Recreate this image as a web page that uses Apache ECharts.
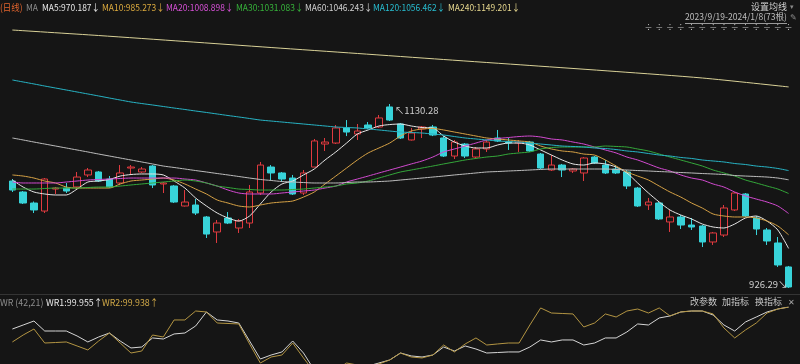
<!DOCTYPE html>
<html><head><meta charset="utf-8">
<script src="https://cdn.jsdelivr.net/npm/echarts@6/dist/echarts.min.js"></script>
<style>html,body{margin:0;padding:0;background:#151515}#c{width:800px;height:364px}</style>
</head><body><div id="c"></div>
<script>
// ---------------- data ----------------
const dates = ['2023/9/19','9/20','9/21','9/22','9/25','9/26','9/27','9/28','10/9','10/10','10/11','10/12','10/13','10/16','10/17','10/18','10/19','10/20','10/23','10/24','10/25','10/26','10/27','10/30','10/31','11/1','11/2','11/3','11/6','11/7','11/8','11/9','11/10','11/13','11/14','11/15','11/16','11/17','11/20','11/21','11/22','11/23','11/24','11/27','11/28','11/29','11/30','12/1','12/4','12/5','12/6','12/7','12/8','12/11','12/12','12/13','12/14','12/15','12/18','12/19','12/20','12/21','12/22','12/25','12/26','12/27','12/28','12/29','2024/1/2','1/3','1/4','1/5','1/8'];

const opens = [1044.9,1032.7,1020.5,1011.6,1036.0,1037.1,1038.3,1051.6,1054.9,1047.1,1042.7,1059.3,1054.9,1061.5,1041.6,1039.4,1017.2,1018.3,1005.0,988.4,1003.9,992.8,998.3,1031.6,1060.4,1053.8,1048.2,1031.6,1060.4,1085.9,1087.0,1103.7,1097.0,1107.0,1104.8,1127.0,1108.1,1090.4,1102.6,1104.8,1092.6,1072.6,1085.9,1071.5,1080.4,1092.6,1088.1,1087.0,1088.1,1074.8,1057.1,1062.6,1056.0,1053.8,1071.5,1062.6,1058.2,1054.9,1037.1,1018.3,1020.5,999.5,1005.0,996.1,995.0,977.3,985.0,1012.8,1030.5,1003.9,990.6,976.2,949.6];
const closes = [1034.9,1020.5,1012.8,1047.1,1037.1,1033.8,1049.3,1057.1,1044.9,1038.3,1053.8,1060.4,1058.2,1040.5,1042.7,1021.6,1021.6,1009.4,986.1,998.3,998.3,1000.6,1032.7,1062.6,1053.8,1047.1,1030.5,1053.8,1089.3,1088.1,1103.7,1099.2,1100.3,1103.7,1114.8,1112.5,1092.6,1098.1,1104.8,1095.9,1072.6,1088.1,1072.6,1080.4,1088.1,1089.3,1087.0,1088.1,1078.2,1059.3,1062.6,1057.1,1058.2,1070.4,1064.9,1053.8,1053.8,1039.4,1017.2,1021.6,1002.8,1005.0,996.1,993.9,977.3,987.3,1015.0,1031.6,1006.1,991.7,978.4,951.8,927.4];
const lows = [1032.7,1019.4,1009.4,1009.4,1030.5,1031.6,1034.9,1049.3,1043.8,1037.1,1040.5,1051.6,1053.8,1037.1,1031.6,1020.5,1016.6,1007.2,981.7,976.2,997.2,987.3,992.8,1029.4,1046.0,1043.8,1029.4,1029.4,1060.4,1078.2,1085.9,1094.7,1090.4,1102.6,1103.7,1111.4,1091.5,1089.8,1092.6,1094.7,1071.5,1069.3,1070.4,1069.3,1077.1,1088.1,1079.3,1077.1,1077.1,1058.2,1056.0,1049.3,1053.8,1044.9,1063.8,1052.7,1052.7,1036.0,1016.1,1012.8,1001.7,988.4,991.7,990.6,971.7,974.0,982.8,1011.6,1005.0,985.0,974.0,949.6,926.29];
const highs = [1047.1,1033.8,1022.2,1048.2,1038.3,1042.7,1054.9,1059.3,1056.0,1050.5,1062.6,1062.6,1060.4,1062.6,1043.8,1040.5,1034.9,1025.0,1006.1,1001.7,1010.5,1002.8,1040.5,1066.0,1062.6,1054.9,1051.6,1057.1,1091.5,1092.6,1107.0,1112.5,1108.1,1110.3,1118.1,1130.28,1109.2,1103.7,1105.9,1107.0,1094.8,1090.4,1087.0,1082.6,1090.4,1101.5,1092.6,1090.4,1089.3,1076.0,1073.7,1063.8,1059.3,1071.5,1072.6,1068.2,1062.6,1057.1,1038.3,1026.1,1021.6,1012.8,1007.2,1003.9,996.1,988.4,1018.3,1032.7,1031.6,1006.1,992.8,982.8,950.7];

const ma5 = [1046.0,1038.2,1032.7,1030.5,1029.4,1029.4,1036.0,1043.8,1044.9,1046.6,1050.4,1052.1,1052.7,1052.7,1051.6,1044.9,1037.1,1026.0,1017.2,1009.4,1003.9,1000.5,1006.1,1019.4,1032.7,1041.6,1044.9,1051.6,1058.2,1068.2,1077.1,1087.0,1097.0,1101.5,1105.9,1107.5,1108.1,1105.9,1104.2,1103.7,1094.8,1088.1,1083.7,1081.5,1081.5,1084.8,1087.0,1087.0,1084.8,1079.3,1073.7,1068.2,1063.8,1062.6,1064.9,1063.8,1060.4,1053.8,1042.7,1031.6,1021.6,1012.7,1007.2,1002.8,997.2,993.9,992.8,997.2,1003.9,1006.1,1000.5,990.6,970.19];
const ma10 = [1051.6,1050.4,1048.2,1044.9,1042.7,1038.2,1037.1,1037.1,1037.1,1037.1,1041.6,1044.9,1046.0,1047.1,1048.2,1046.0,1041.6,1036.0,1030.5,1023.8,1020.5,1017.2,1016.1,1018.3,1020.5,1021.6,1022.7,1027.1,1032.7,1041.6,1050.4,1059.3,1068.2,1076.0,1081.5,1087.0,1094.8,1100.3,1102.6,1103.1,1101.5,1099.2,1097.0,1094.8,1092.6,1091.5,1090.4,1089.3,1088.1,1083.7,1080.4,1078.2,1077.1,1074.8,1073.7,1068.2,1061.5,1054.9,1050.4,1046.0,1039.3,1032.7,1027.1,1020.5,1014.9,1008.3,1006.1,1005.0,1005.0,1003.9,1000.5,995.0,985.27];
const ma20 = [1043.8,1042.7,1042.7,1042.7,1042.7,1043.8,1044.9,1046.0,1046.6,1047.1,1047.7,1048.2,1048.2,1048.2,1048.2,1048.2,1047.1,1046.0,1042.7,1039.3,1034.9,1031.6,1030.5,1030.5,1030.5,1031.6,1032.7,1033.8,1034.9,1037.1,1039.3,1043.8,1047.1,1050.4,1053.8,1057.1,1060.4,1063.8,1067.1,1071.5,1077.1,1080.4,1083.7,1087.0,1090.4,1092.0,1093.1,1094.2,1094.8,1093.7,1091.5,1090.4,1088.1,1085.9,1082.6,1079.3,1076.0,1071.5,1068.2,1063.8,1059.3,1056.0,1051.6,1048.2,1046.0,1041.6,1038.2,1032.7,1028.3,1024.9,1021.6,1017.2,1008.9];
const ma30 = [1036.0,1036.0,1036.0,1036.6,1037.1,1037.1,1037.1,1037.7,1038.2,1038.2,1039.3,1040.5,1041.6,1042.7,1043.8,1044.9,1046.0,1044.9,1042.7,1039.3,1037.7,1036.0,1035.5,1034.9,1034.9,1034.9,1035.5,1036.0,1037.1,1038.2,1039.3,1041.6,1042.7,1044.9,1048.2,1051.6,1054.9,1057.1,1059.3,1061.5,1063.8,1066.0,1068.2,1069.9,1071.5,1072.6,1074.8,1076.0,1077.1,1080.4,1082.0,1082.6,1082.6,1082.6,1082.6,1083.7,1083.2,1082.6,1080.4,1078.2,1074.8,1071.5,1068.2,1064.9,1061.5,1057.1,1053.8,1050.4,1046.0,1042.7,1039.3,1036.0,1031.08];
const ma60 = [1092.6,1090.4,1088.1,1085.9,1083.7,1081.5,1079.3,1077.1,1074.8,1072.6,1070.4,1068.2,1066.0,1063.8,1061.5,1059.9,1058.2,1056.5,1054.9,1053.2,1051.6,1049.9,1048.2,1046.6,1045.5,1044.3,1043.8,1043.2,1042.7,1042.7,1042.7,1043.2,1043.8,1043.8,1044.3,1044.9,1046.0,1047.1,1048.2,1049.3,1050.4,1051.6,1052.7,1053.8,1054.9,1055.4,1056.0,1056.5,1057.1,1057.7,1058.2,1058.2,1058.2,1058.2,1058.2,1058.2,1057.7,1057.1,1056.5,1056.0,1055.4,1054.9,1054.3,1053.8,1053.2,1052.7,1052.1,1051.0,1050.4,1049.9,1049.3,1048.2,1046.24];
const ma120 = [1156.9,1154.7,1152.5,1150.2,1148.0,1145.8,1143.6,1141.4,1139.2,1136.9,1134.7,1132.5,1130.8,1129.2,1127.5,1125.8,1124.2,1122.5,1120.9,1119.2,1117.5,1115.9,1114.2,1112.5,1111.4,1110.3,1109.2,1108.1,1107.0,1105.9,1104.8,1104.2,1103.7,1102.6,1101.5,1100.3,1099.2,1098.7,1098.1,1097.0,1095.9,1094.2,1092.6,1091.5,1090.4,1089.3,1088.7,1088.1,1087.0,1085.9,1084.8,1083.7,1083.2,1082.6,1081.5,1080.9,1079.8,1078.2,1077.1,1075.4,1073.7,1072.6,1071.0,1069.9,1068.2,1067.1,1066.0,1064.3,1063.2,1061.5,1060.4,1058.8,1056.46];
// MA240 read at every 8th session (a nearly straight line)
const ma240Index = [0, 8, 16, 24, 32, 40, 48, 56, 64, 72];
const ma240Value = [1212.3, 1206.2, 1199.6, 1192.9, 1186.3, 1179.6, 1173.0, 1166.3, 1159.1, 1149.2];

const wr1 = [72.5,77.5,82.5,70,70,70,63.8,56.3,62.5,67.5,57.5,48.8,50,61.3,60,66.3,67.5,76.3,93.8,83.8,82.5,80,57.5,35,40,43.8,57.5,42.5,21.3,18.8,21.3,26.3,23.8,26.3,30,33.8,42.5,38.8,37.5,40,50,45,51.3,47.5,42.5,43.1,43.8,43.8,50,58.8,56.3,58.8,58.8,52.5,55,61.3,61.3,68.8,78.8,77.5,86.3,88.8,93.8,95,95,90,77.5,70,81.3,87.5,93.8,97.5,99.955];
const wr2 = [56.3,65,72.5,55,55.6,56.3,51.3,46.3,57.5,67.5,55,42.5,45,65,62.5,83.8,83.8,95,93.8,80,79.4,78.8,53.8,30,37.5,40,55,36.3,18.8,15,21.3,30,27.5,26.3,28.8,33.8,42.5,37.5,36.3,40,52.5,43.8,53.8,61.3,52.5,53.8,55,55,77.5,98.8,92.5,91.9,91.3,75,80,91.3,87.5,95,97.5,92.5,98.8,88.8,93.8,95,95,91.3,73.8,61.3,71.3,80,92.5,97.5,99.938];

const maNames = ['MA5','MA10','MA20','MA30','MA60','MA120','MA240'];
const maLegendValues = [970.187, 985.273, 1008.898, 1031.083, 1046.243, 1056.462, 1149.201];
const wrLegendValues = [99.955, 99.938];
const markerSessions = [59,60,61,62,63,64,65,66,67,68,69,70,71,72];
const rangeText = '2023/9/19-2024/1/8(73根)';

// ---------------- drawing ----------------
const BG = '#151515';
const FONT = '"Noto Sans CJK SC","Noto Sans",sans-serif';
const maColors = ['#e6e6e6','#d5a145','#d24ad0','#34a83a','#bdbdbd','#27b3c4','#d9d197'];
const legendColors = ['#e8e8e8','#dcaa3e','#d650d6','#36b23a','#d0d0d0','#28bdd0','#e6d78e'];

const ma240 = dates.map(() => null);
ma240Index.forEach((k, j) => { ma240[k] = ma240Value[j]; });
const maData = [ma5, ma10, ma20, ma30, ma60, ma120, ma240];

function txt(text, x, y, fill, size, align, sx) {
  return {type:'text', x:x, y:y, silent:true, z:100, scaleX: sx || 1,
    style:{text:text, fill:fill, font:size+'px '+FONT,
      align:align||'left', verticalAlign:'middle',
      textAlign:align||'left', textVerticalAlign:'middle'}};
}

const chart = echarts.init(document.getElementById('c'));

const series = [{
  type:'candlestick', name:'K', xAxisIndex:0, yAxisIndex:0, barWidth:7,
  data: opens.map((o,i)=>[o, closes[i], lows[i], highs[i]]),
  itemStyle:{color:BG, color0:'#38d3d9', borderColor:'#e03a3f', borderColor0:'#38d3d9', borderWidth:1},
  markPoint:{
    symbol:'circle', symbolSize:0, animation:false, silent:true,
    label:{color:'#cfcfcf', fontSize:9.5, fontFamily:FONT},
    data:[
      {type:'max', valueDim:'highest', label:{position:'right', distance:5, offset:[0,6], formatter:p=>'↖'+Number(p.value).toFixed(2)}},
      {type:'min', valueDim:'lowest', label:{position:'left', distance:1, offset:[0,-4], formatter:p=>Number(p.value).toFixed(2)+'↘'}}
    ]
  }
}];
maData.forEach((d, k) => {
  series.push({type:'line', name:maNames[k], xAxisIndex:0, yAxisIndex:0, data:d,
    symbol:'none', smooth:0.25, connectNulls:true, silent:true,
    lineStyle:{width:1, color:maColors[k]}});
});
series.push({type:'line', name:'WR1', xAxisIndex:1, yAxisIndex:1, data:wr1, symbol:'none', silent:true, lineStyle:{width:1, color:'#d6d6d6'}});
series.push({type:'line', name:'WR2', xAxisIndex:1, yAxisIndex:1, data:wr2, symbol:'none', silent:true, lineStyle:{width:1, color:'#b39543'}});

function buildGraphics(markXs) {
  const g = [];
  g.push({type:'line', silent:true, shape:{x1:0, y1:294.5, x2:800, y2:294.5}, style:{stroke:'#343434', lineWidth:1}});
  // top legend
  const fs = 9.5, sc = 0.89;
  g.push(txt('(日线)', 0, 7, '#e0632d', fs, 'left', sc));
  g.push(txt('MA', 26, 7, '#8c8c8c', fs, 'left', sc));
  const lx = [42, 102, 166, 236, 305, 373, 448];
  maNames.forEach((n,k) => g.push(txt(n+':'+maLegendValues[k].toFixed(3)+'↓', lx[k], 7, legendColors[k], fs, 'left', sc)));
  // top right
  g.push(txt('设置均线', 787, 7, '#cfcfcf', 9, 'right'));
  g.push(txt('▾', 794, 6, '#8a8a8a', 7, 'right'));
  g.push(txt(rangeText, 787, 17, '#bdbdbd', 9, 'right', 0.95));
  g.push({type:'line', silent:true, shape:{x1:685, y1:23.5, x2:787, y2:23.5}, style:{stroke:'#9a9a9a', lineWidth:1}});
  g.push(txt('✎', 797, 17, '#8a8a8a', 8, 'right'));
  markXs.forEach(x => g.push(txt('÷', x, 27, '#c4c4c4', 8, 'center')));
  // lower legend
  g.push(txt('WR (42,21)', 0, 302, '#8c8c8c', fs, 'left', 0.93));
  g.push(txt('WR1:'+wrLegendValues[0].toFixed(3)+'↑', 46, 302, '#e8e8e8', fs, 'left', 0.93));
  g.push(txt('WR2:'+wrLegendValues[1].toFixed(3)+'↑', 102, 302, '#d2aa48', fs, 'left', 0.93));
  g.push(txt('改参数', 717, 302, '#c6c6c6', 9, 'right'));
  g.push(txt('加指标', 749, 302, '#c6c6c6', 9, 'right'));
  g.push(txt('换指标', 782, 302, '#c6c6c6', 9, 'right'));
  g.push(txt('✕', 795, 302, '#a8a8a8', 8, 'right'));
  return g;
}

const option = {
  backgroundColor: BG,
  animation:false,
  grid:[{left:7, right:6, top:20, height:274}, {left:7, right:6, top:307, height:57}],
  xAxis:[
    {type:'category', data:dates, gridIndex:0, boundaryGap:true, show:false},
    {type:'category', data:dates, gridIndex:1, boundaryGap:true, show:false}
  ],
  yAxis:[
    {type:'value', gridIndex:0, min:919.63, max:1223.41, show:false, splitLine:{show:false}},
    {type:'value', gridIndex:1, min:28.75, max:100, show:false, splitLine:{show:false}}
  ],
  series: series,
  graphic: buildGraphics([])
};
chart.setOption(option);
const markXs = markerSessions.map(i => chart.convertToPixel({xAxisIndex:0}, i));
chart.setOption({graphic: buildGraphics(markXs)});
</script>
</body></html>
